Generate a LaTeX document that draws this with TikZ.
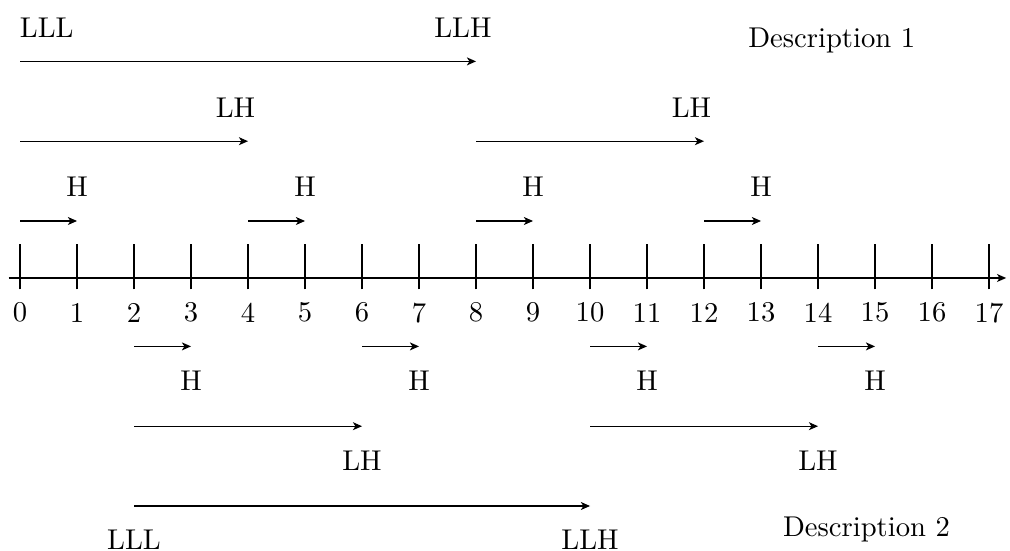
\documentclass[tikz,border=0pt]{standalone}
\usetikzlibrary{arrows.meta}
\begin{document}
\begin{tikzpicture}[x=0.7cm,y=0.7cm,
  >={Stealth[length=3.2pt,width=2.8pt,inset=0.9pt]},
  arr/.style={->},
  lbl/.style={inner sep=0pt, anchor=center},
  desc/.style={inner sep=0pt, anchor=base}]
\useasboundingbox (-0.351,-4.772) rectangle (17.368,4.877);
% axis
\coordinate (axL) at (-0.2,0);
\coordinate (axR) at (17.3,0);
\draw[->] (axL) -- (axR);
\foreach \i in {0,...,17}{
  \coordinate (tb\i) at (\i,-0.2);
  \coordinate (tt\i) at (\i,0.6);
  \draw (tb\i) -- (tt\i);
  \node[lbl] (n\i) at (\i,-0.61) {\i};
}
% upper rows
\coordinate (a0) at (0,3.8); \coordinate (a8) at (8,3.8);
\draw[arr] (a0) -- (a8);
\node[lbl] (lllU) at (0.47,4.39) {LLL};
\node[lbl] (llhU) at (7.77,4.39) {LLH};
\foreach \s/\e in {0/4,8/12}{
  \coordinate (b\s) at (\s,2.4); \coordinate (be\s) at (\e,2.4);
  \draw[arr] (b\s) -- (be\s);
  \node[lbl] (lhU\s) at (\e-0.22,2.99) {LH};
}
\foreach \s/\e in {0/1,4/5,8/9,12/13}{
  \coordinate (c\s) at (\s,1.0); \coordinate (ce\s) at (\e,1.0);
  \draw[arr] (c\s) -- (ce\s);
  \node[lbl] (hU\s) at (\e,1.6) {H};
}
\node[desc] (d1) at (14.24,4.04) {Description 1};
% lower rows
\foreach \s/\e in {2/3,6/7,10/11,14/15}{
  \coordinate (d\s) at (\s,-1.2); \coordinate (de\s) at (\e,-1.2);
  \draw[arr] (d\s) -- (de\s);
  \node[lbl] (hL\s) at (\e,-1.8) {H};
}
\foreach \s/\e in {2/6,10/14}{
  \coordinate (f\s) at (\s,-2.6); \coordinate (fe\s) at (\e,-2.6);
  \draw[arr] (f\s) -- (fe\s);
  \node[lbl] (lhL\s) at (\e,-3.2) {LH};
}
\coordinate (g2) at (2,-4.0); \coordinate (g10) at (10,-4.0);
\draw[arr] (g2) -- (g10);
\node[lbl] (lllL) at (2,-4.6) {LLL};
\node[lbl] (llhL) at (10,-4.6) {LLH};
\node[desc] (d2) at (14.85,-4.54) {Description 2};
\end{tikzpicture}
\end{document}
